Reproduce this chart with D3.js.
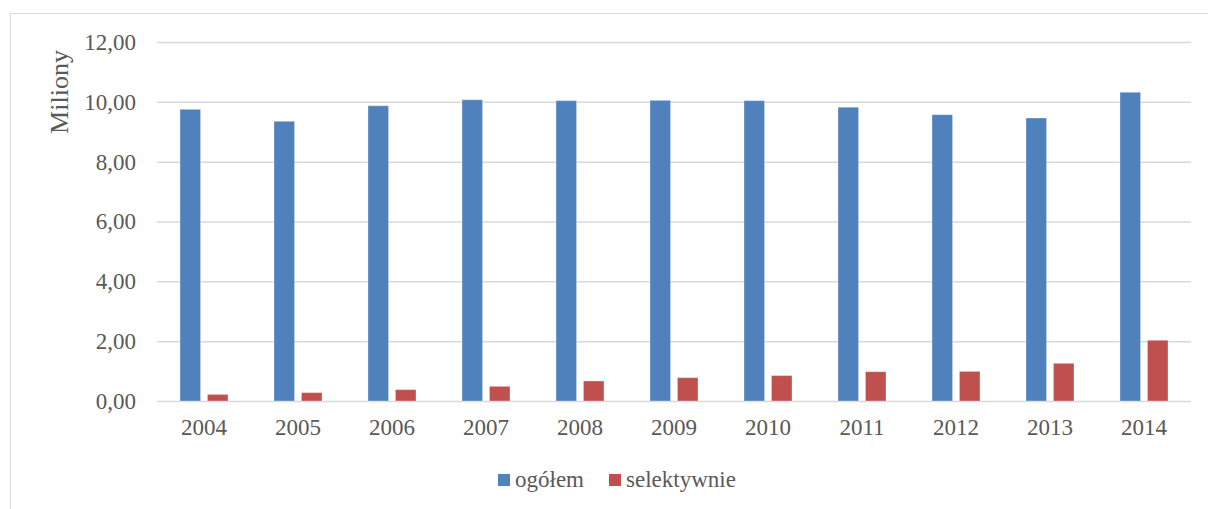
<!DOCTYPE html>
<html>
<head>
<meta charset="utf-8">
<script src="https://cdn.jsdelivr.net/npm/d3@7"></script>
<style>
  body { margin: 0; background: #fff; }
  text { font-family: "Liberation Serif", "Times New Roman", serif; fill: #595959; }
</style>
</head>
<body>
<div id="chart"></div>
<script>
// dane
var years = ["2004", "2005", "2006", "2007", "2008", "2009", "2010", "2011", "2012", "2013", "2014"];
var seriesNames = ["ogółem", "selektywnie"];
var ogolem = [9.75, 9.35, 9.87, 10.07, 10.04, 10.05, 10.04, 9.82, 9.57, 9.46, 10.32];
var selektywnie = [0.22, 0.28, 0.38, 0.49, 0.67, 0.78, 0.85, 0.98, 0.99, 1.26, 2.03];
var yTicks = [0, 2, 4, 6, 8, 10, 12];
var colors = ["#4f81bd", "#c0504d"];

var w = 1208, h = 509;
var plotLeft = 157, plotRight = 1191, plotTop = 42, plotBottom = 401;

var svg = d3.select("#chart").append("svg")
  .attr("width", w)
  .attr("height", h);

// ramka wykresu
svg.append("rect")
  .attr("x", 10.5).attr("y", 13.5)
  .attr("width", w + 10).attr("height", h + 10)
  .attr("fill", "none")
  .attr("stroke", "#d9d9d9")
  .attr("stroke-width", 1);

var x0 = d3.scaleBand().domain(years).range([plotLeft, plotRight]).padding(0);
var step = x0.step();
var x1 = d3.scaleBand().domain(seriesNames)
  .range([step / 2 - 24, step / 2 + 24])
  .paddingInner(0.25);

var y = d3.scaleLinear().domain([0, 12]).range([plotBottom, plotTop]);

// linie siatki
var yGrid = d3.axisLeft(y).tickValues(yTicks).tickSize(-(plotRight - plotLeft)).tickFormat("");
var grid = svg.append("g").attr("transform", "translate(" + plotLeft + ",0)").call(yGrid);
grid.select(".domain").remove();
grid.selectAll("line").attr("stroke", "#d9d9d9").attr("stroke-width", 1.5);

// oś Y - etykiety
var fmt = function(d) { return d3.format(".2f")(d).replace(".", ","); };
var yAxis = d3.axisLeft(y).tickValues(yTicks).tickSize(0).tickPadding(21).tickFormat(fmt);
var yBar = svg.append("g").attr("transform", "translate(" + plotLeft + ",0)").call(yAxis);
yBar.select(".domain").remove();
yBar.selectAll("text").style("font-size", "23px").attr("fill", "#595959")
  .style("font-family", "Liberation Serif, Times New Roman, serif");

// oś X
var xAxis = d3.axisBottom(x0).tickSize(0).tickPadding(18);
var xBar = svg.append("g").attr("transform", "translate(0," + plotBottom + ")").call(xAxis);
xBar.select(".domain").remove();
xBar.selectAll("text").style("font-size", "23px").attr("fill", "#595959")
  .style("font-family", "Liberation Serif, Times New Roman, serif");

// słupki
var dataset = [ogolem, selektywnie];
seriesNames.forEach(function(name, si) {
  svg.append("g").selectAll("rect")
    .data(dataset[si])
    .enter()
    .append("rect")
    .attr("x", function(d, i) { return x0(years[i]) + x1(name); })
    .attr("y", function(d) { return y(d); })
    .attr("width", x1.bandwidth())
    .attr("height", function(d) { return y(0) - y(d); })
    .attr("fill", colors[si])
    .attr("stroke", "rgba(255,255,255,0.35)")
    .attr("stroke-width", 1);
});

// tytuł osi Y
svg.append("text")
  .attr("transform", "translate(68,92) rotate(-90)")
  .attr("text-anchor", "middle")
  .style("font-size", "26px")
  .text("Miliony");

// legenda
var legendX = [498, 609];
var legend = svg.append("g");
seriesNames.forEach(function(name, i) {
  legend.append("rect")
    .attr("x", legendX[i]).attr("y", 474)
    .attr("width", 12).attr("height", 12)
    .attr("fill", colors[i]);
  legend.append("text")
    .attr("x", legendX[i] + 17).attr("y", 487)
    .style("font-size", "23px")
    .text(name);
});
</script>
</body>
</html>
